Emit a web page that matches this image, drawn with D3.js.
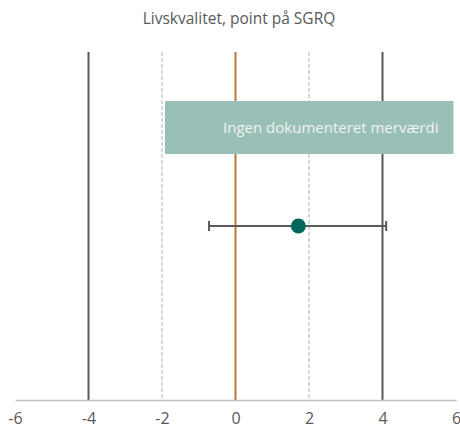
<!DOCTYPE html>
<html>
<head>
<meta charset="utf-8">
<script src="https://cdn.jsdelivr.net/npm/d3@7"></script>
<style>
  body { margin: 0; background: #fff; }
  text { font-family: "Open Sans", sans-serif; }
</style>
</head>
<body>
<div class="canvas"></div>
<script>
const width = 460;
const height = 432;

// data
const title = "Livskvalitet, point på SGRQ";
const tickValues = [-6, -4, -2, 0, 2, 4, 6];
const solidLines = [-4, 4];
const dashedLines = [-2, 2];
const zeroLine = [0];
const zoneRange = [-1.92, 5.93];
const zoneLabel = "Ingen dokumenteret merværdi";
const estimate = [1.71];
const ciLow = [-0.72];
const ciHigh = [4.1];

const margin = { top: 52, right: 4, bottom: 32, left: 15 };
const graphWidth = width - margin.left - margin.right;
const graphHeight = height - margin.top - margin.bottom;

const svg = d3.select(".canvas")
  .append("svg")
  .attr("width", width)
  .attr("height", height);

svg.append("text")
  .attr("x", 239)
  .attr("y", 24)
  .attr("text-anchor", "middle")
  .attr("fill", "#595959")
  .style("font-size", "15.5px")
  .text(title);

const graph = svg.append("g")
  .attr("transform", `translate(${margin.left}, ${margin.top})`);

const xScale = d3.scaleLinear()
  .domain([-6, 6])
  .range([0, 441]);

// row centres
const yScale = d3.scalePoint()
  .domain(["zone", "est"])
  .range([75.5, 174]);
const boxHeight = 53;

// reference lines
graph.selectAll(".dashed")
  .data(dashedLines)
  .enter()
  .append("line")
  .attr("x1", d => xScale(d))
  .attr("x2", d => xScale(d))
  .attr("y1", 0)
  .attr("y2", graphHeight)
  .attr("stroke", "#d9d9d9")
  .attr("stroke-width", 2)
  .attr("stroke-dasharray", "4,2");

graph.selectAll(".solid")
  .data(solidLines)
  .enter()
  .append("line")
  .attr("x1", d => xScale(d))
  .attr("x2", d => xScale(d))
  .attr("y1", 0)
  .attr("y2", graphHeight)
  .attr("stroke", "#595959")
  .attr("stroke-width", 2);

graph.selectAll(".zero")
  .data(zeroLine)
  .enter()
  .append("line")
  .attr("x1", d => xScale(d))
  .attr("x2", d => xScale(d))
  .attr("y1", 0)
  .attr("y2", graphHeight)
  .attr("stroke", "#c0763a")
  .attr("stroke-width", 2);

// zone box
graph.append("rect")
  .attr("x", xScale(zoneRange[0]))
  .attr("y", yScale("zone") - boxHeight / 2)
  .attr("width", xScale(zoneRange[1]) - xScale(zoneRange[0]))
  .attr("height", boxHeight)
  .attr("fill", "#99c0b6");

graph.append("text")
  .attr("x", xScale(zoneRange[1]) - 15)
  .attr("y", yScale("zone"))
  .attr("dy", "0.35em")
  .attr("text-anchor", "end")
  .attr("fill", "#f2f2f2")
  .style("font-size", "15px")
  .text(zoneLabel);

// error bar
const cy = yScale("est");

graph.selectAll(".ci")
  .data(estimate)
  .enter()
  .append("line")
  .attr("x1", (d, i) => xScale(ciLow[i]))
  .attr("x2", (d, i) => xScale(ciHigh[i]))
  .attr("y1", cy)
  .attr("y2", cy)
  .attr("stroke", "#595959")
  .attr("stroke-width", 2);

graph.selectAll(".cap")
  .data(ciLow.concat(ciHigh))
  .enter()
  .append("line")
  .attr("x1", d => xScale(d))
  .attr("x2", d => xScale(d))
  .attr("y1", cy - 5)
  .attr("y2", cy + 5)
  .attr("stroke", "#595959")
  .attr("stroke-width", 2);

graph.selectAll(".dot")
  .data(estimate)
  .enter()
  .append("circle")
  .attr("cx", d => xScale(d))
  .attr("cy", cy)
  .attr("r", 7.5)
  .attr("fill", "#00665a");

// x axis
const xAxis = d3.axisBottom(xScale)
  .tickValues(tickValues)
  .tickSize(0)
  .tickPadding(13)
  .tickFormat(d => d);

const axisG = graph.append("g")
  .attr("transform", `translate(0, ${graphHeight})`)
  .call(xAxis);

axisG.select(".domain")
  .attr("stroke", "#bfbfbf")
  .attr("stroke-width", 1.5);

axisG.selectAll("text")
  .attr("fill", "#595959")
  .style("font-size", "16px")
  .style("font-family", "'Open Sans', sans-serif");
</script>
</body>
</html>
